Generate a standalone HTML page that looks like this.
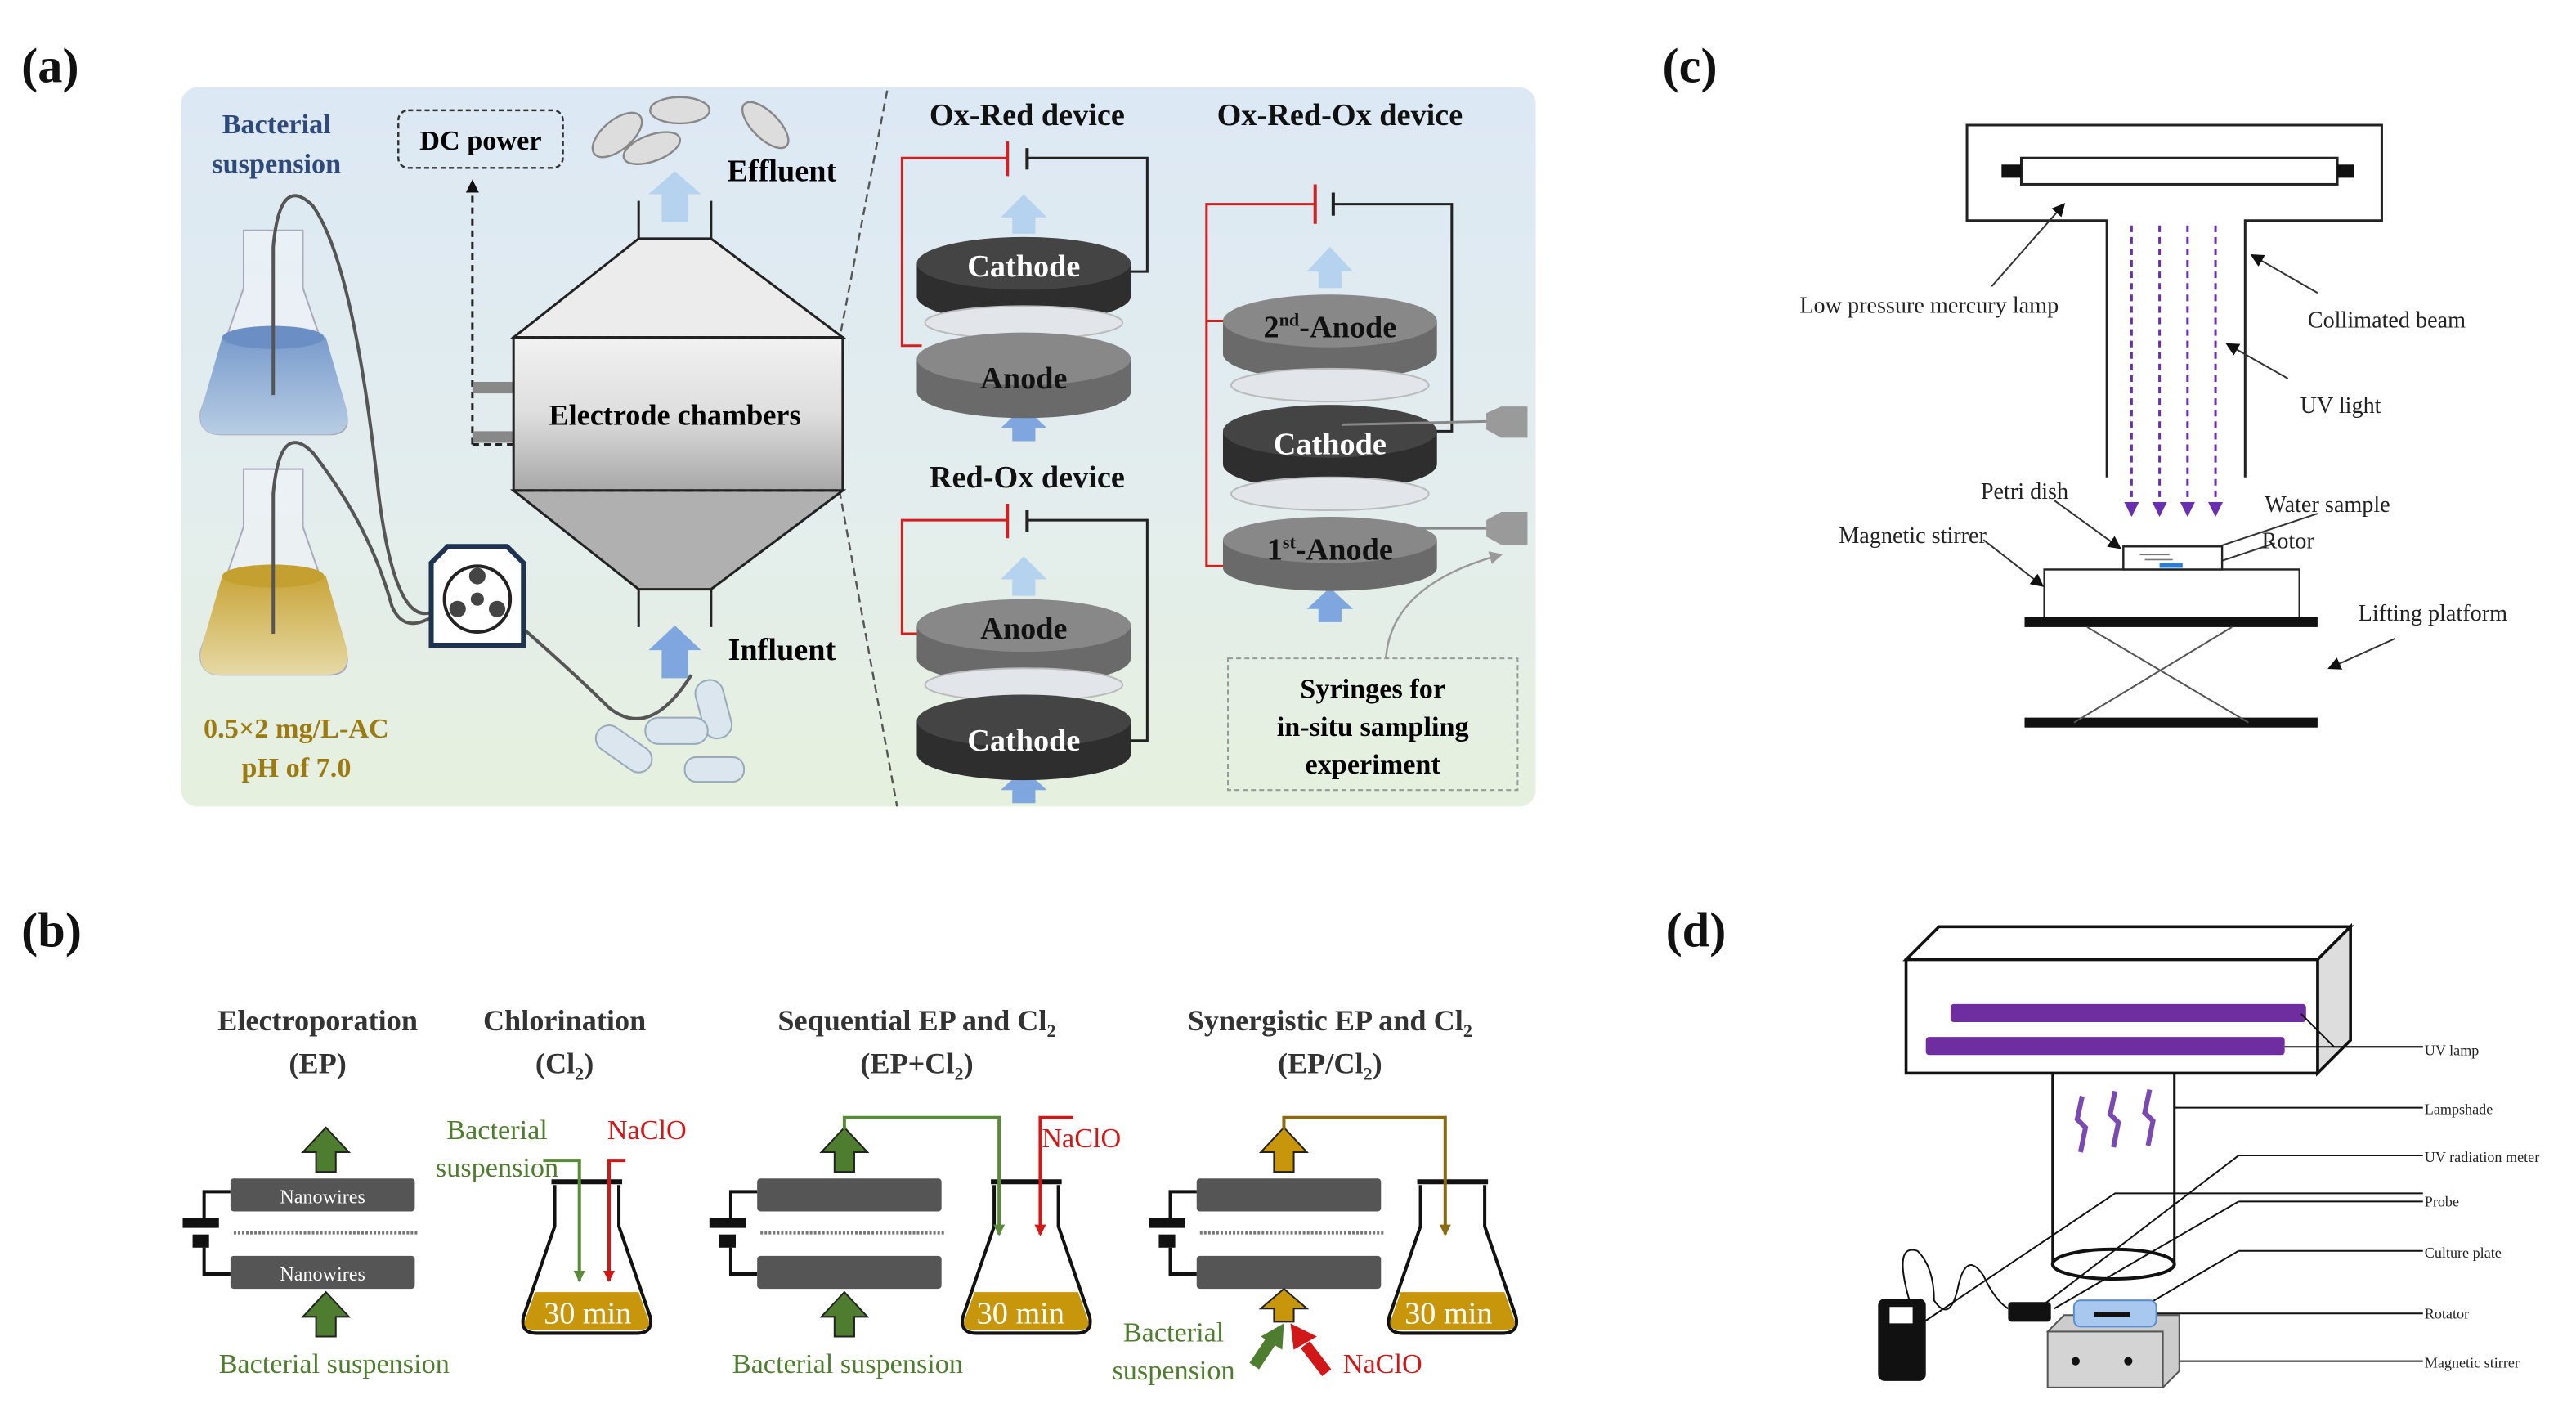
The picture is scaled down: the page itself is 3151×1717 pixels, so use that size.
<!DOCTYPE html>
<html><head><meta charset="utf-8"><style>
html,body{margin:0;padding:0;background:#fff}
svg{display:block}
text{font-family:"Liberation Serif",serif}
</style></head><body>
<svg width="3151" height="1717" viewBox="0 0 1565 853" preserveAspectRatio="none" xmlns="http://www.w3.org/2000/svg">
<defs>
<linearGradient id="bgA" x1="0" y1="0" x2="0" y2="1"><stop offset="0" stop-color="#dce8f4"/><stop offset="0.55" stop-color="#e3edee"/><stop offset="1" stop-color="#e6f0de"/></linearGradient>
<linearGradient id="mid" x1="0" y1="0" x2="0" y2="1"><stop offset="0" stop-color="#f2f2f2"/><stop offset="0.5" stop-color="#dedede"/><stop offset="1" stop-color="#a8a8a8"/></linearGradient>
<linearGradient id="blueL" x1="0" y1="0" x2="0" y2="1"><stop offset="0" stop-color="#7a9ccc"/><stop offset="1" stop-color="#b8cde4"/></linearGradient>
<linearGradient id="goldL" x1="0" y1="0" x2="0" y2="1"><stop offset="0" stop-color="#c9a63a"/><stop offset="1" stop-color="#e6d9a6"/></linearGradient>
<marker id="ah" markerWidth="8" markerHeight="8" refX="7" refY="4" orient="auto" markerUnits="userSpaceOnUse"><path d="M0,0 L8,4 L0,8z" fill="#111"/></marker>
<marker id="ahp" markerWidth="9" markerHeight="9" refX="8" refY="4.5" orient="auto" markerUnits="userSpaceOnUse"><path d="M0,0 L9,4.5 L0,9z" fill="#6a2fb0"/></marker>
<marker id="ahg" markerWidth="7" markerHeight="7" refX="6" refY="3.5" orient="auto" markerUnits="userSpaceOnUse"><path d="M0,0 L7,3.5 L0,7z" fill="#5a8a3a"/></marker>
<marker id="ahr" markerWidth="7" markerHeight="7" refX="6" refY="3.5" orient="auto" markerUnits="userSpaceOnUse"><path d="M0,0 L7,3.5 L0,7z" fill="#d01818"/></marker>
<marker id="ahy" markerWidth="7" markerHeight="7" refX="6" refY="3.5" orient="auto" markerUnits="userSpaceOnUse"><path d="M0,0 L7,3.5 L0,7z" fill="#8a6a10"/></marker>
<marker id="ahgr" markerWidth="8" markerHeight="8" refX="7" refY="4" orient="auto" markerUnits="userSpaceOnUse"><path d="M0,0 L8,4 L0,8z" fill="#999"/></marker>
</defs>

<g font-weight="bold" font-size="30" fill="#111">
<text x="13" y="50">(a)</text>
<text x="13" y="575">(b)</text>
<text x="1010" y="50">(c)</text>
<text x="1012" y="575">(d)</text>
</g>

<!-- ================= (a) ================= -->
<rect x="110" y="53" width="823" height="437" rx="10" fill="url(#bgA)"/>
<path d="M539,55 L510,206" stroke="#555" stroke-width="1.2" stroke-dasharray="5,3" fill="none"/>
<path d="M510,298 L545,490" stroke="#555" stroke-width="1.2" stroke-dasharray="5,3" fill="none"/>

<g font-weight="bold" font-size="17">
<text x="168" y="81" text-anchor="middle" fill="#2e4a7a">Bacterial</text>
<text x="168" y="105" text-anchor="middle" fill="#2e4a7a">suspension</text>
<text x="180" y="448" text-anchor="middle" fill="#9b7a10">0.5×2 mg/L-AC</text>
<text x="180" y="472" text-anchor="middle" fill="#9b7a10">pH of 7.0</text>
</g>
<rect x="242" y="67" width="100" height="35" rx="6" fill="none" stroke="#333" stroke-width="1.2" stroke-dasharray="3,2"/>
<text x="292" y="91" text-anchor="middle" font-weight="bold" font-size="17">DC power</text>
<path d="M287,270 L287,110" stroke="#222" stroke-width="1.5" stroke-dasharray="4,3" fill="none" marker-end="url(#ah)"/>
<path d="M287,270 L312,270" stroke="#222" stroke-width="1.5" stroke-dasharray="4,3"/>
<rect x="287" y="232" width="25" height="7" fill="#888"/>
<rect x="287" y="262" width="25" height="7" fill="#888"/>

<g fill="#ddd" stroke="#888" stroke-width="1.2">
<ellipse cx="375" cy="82" rx="18" ry="9" transform="rotate(-40 375 82)"/>
<ellipse cx="413" cy="67" rx="18" ry="8"/>
<ellipse cx="396" cy="90" rx="18" ry="8" transform="rotate(-20 396 90)"/>
<ellipse cx="465" cy="76" rx="18" ry="8" transform="rotate(45 465 76)"/>
</g>
<text x="475" y="110" text-anchor="middle" font-weight="bold" font-size="19">Effluent</text>
<text x="475" y="401" text-anchor="middle" font-weight="bold" font-size="19">Influent</text>

<path d="M388,145 L432,145 L512,205 L312,205z" fill="#ececec" stroke="#222" stroke-width="1.5"/>
<rect x="312" y="205" width="200" height="93" fill="url(#mid)" stroke="#222" stroke-width="1.5"/>
<path d="M312,298 L512,298 L432,358 L388,358z" fill="#b0b0b0" stroke="#222" stroke-width="1.5"/>
<line x1="312" y1="205" x2="512" y2="205" stroke="#222" stroke-width="1.5" stroke-dasharray="5,3"/>
<line x1="312" y1="298" x2="512" y2="298" stroke="#222" stroke-width="1.5" stroke-dasharray="5,3"/>
<path d="M388,145 L388,122 M432,145 L432,122 M388,358 L388,381 M432,358 L432,381" stroke="#222" stroke-width="1.5"/>
<text x="410" y="258" text-anchor="middle" font-weight="bold" font-size="18">Electrode chambers</text>
<path d="M402,135 L402,118 L394,118 L410,104 L426,118 L418,118 L418,135z" fill="#b5d2ee"/>
<path d="M402,412 L402,395 L394,395 L410,380 L426,395 L418,395 L418,412z" fill="#7fa6de"/>

<g>
<path d="M148,140 L148,175 L122,250 Q120,264 135,264 L200,264 Q214,264 210,250 L184,175 L184,140z" fill="#f0f4f8" fill-opacity="0.6" stroke="#aab" stroke-width="1"/>
<path d="M135,205 L198,205 L211,250 Q213,264 198,264 L134,264 Q120,264 122,250z" fill="url(#blueL)"/>
<ellipse cx="166" cy="205" rx="31" ry="7" fill="#6b8fc4"/>
<path d="M148,285 L148,320 L122,395 Q120,410 135,410 L200,410 Q214,410 210,395 L184,320 L184,285z" fill="#f0f4f8" fill-opacity="0.6" stroke="#aab" stroke-width="1"/>
<path d="M135,350 L198,350 L211,395 Q213,410 198,410 L134,410 Q120,410 122,395z" fill="url(#goldL)"/>
<ellipse cx="166" cy="350" rx="31" ry="7" fill="#c4a030"/>
</g>
<path d="M166,240 L166,150 Q170,105 190,125 Q215,160 230,300 Q240,380 262,372" fill="none" stroke="#555" stroke-width="2"/>
<path d="M166,385 L166,300 Q170,255 190,275 Q225,320 238,368 Q245,385 262,375" fill="none" stroke="#555" stroke-width="2"/>
<path d="M310,375 Q350,410 370,430 Q395,450 420,410" fill="none" stroke="#555" stroke-width="2"/>
<path d="M262,342 L272,332 L308,332 L318,342 L318,392 L262,392z" fill="#fff" stroke="#1f3350" stroke-width="3"/>
<circle cx="290" cy="364" r="20" fill="#fff" stroke="#222" stroke-width="2"/>
<g fill="#444"><circle cx="290" cy="350" r="5"/><circle cx="278" cy="370" r="5"/><circle cx="302" cy="370" r="5"/><circle cx="290" cy="364" r="4"/></g>
<g fill="#dbe6ee" stroke="#9ab" stroke-width="1">
<rect x="425" y="413" width="17" height="36" rx="8" transform="rotate(-15 433 431)"/>
<rect x="392" y="436" width="38" height="16" rx="8"/>
<rect x="360" y="447" width="38" height="16" rx="8" transform="rotate(35 379 455)"/>
<rect x="416" y="460" width="36" height="15" rx="7"/>
</g>

<g font-weight="bold" font-size="19" fill="#111">
<text x="624" y="76" text-anchor="middle">Ox-Red device</text>
<text x="814" y="76" text-anchor="middle">Ox-Red-Ox device</text>
<text x="624" y="296" text-anchor="middle">Red-Ox device</text>
</g>
<path d="M612,96 L548,96 L548,210 L560,210" fill="none" stroke="#d02020" stroke-width="1.5"/>
<path d="M612,86 L612,107" stroke="#d02020" stroke-width="2"/>
<path d="M624,90 L624,103" stroke="#222" stroke-width="2"/>
<path d="M624,96 L697,96 L697,165 L687,165" fill="none" stroke="#222" stroke-width="1.5"/>
<path d="M612,316 L548,316 L548,385 L560,385" fill="none" stroke="#d02020" stroke-width="1.5"/>
<path d="M612,306 L612,327" stroke="#d02020" stroke-width="2"/>
<path d="M624,310 L624,323" stroke="#222" stroke-width="2"/>
<path d="M624,316 L697,316 L697,450 L687,450" fill="none" stroke="#222" stroke-width="1.5"/>
<path d="M799,124 L733,124 L733,195 L745,195 M733,195 L733,344 L745,344" fill="none" stroke="#d02020" stroke-width="1.5"/>
<path d="M799,112 L799,136" stroke="#d02020" stroke-width="2"/>
<path d="M810,117 L810,131" stroke="#222" stroke-width="2"/>
<path d="M810,124 L882,124 L882,262 L872,262" fill="none" stroke="#222" stroke-width="1.5"/>

<g fill="#b5d2ee">
<path d="M615,142 L615,132 L608,132 L622,118 L636,132 L629,132 L629,142z"/>
<path d="M615,362 L615,352 L608,352 L622,338 L636,352 L629,352 L629,362z"/>
<path d="M801,175 L801,165 L794,165 L808,150 L822,165 L815,165 L815,175z"/>
</g>
<g fill="#7fa6de">
<path d="M615,268 L615,260 L608,260 L622,247 L636,260 L629,260 L629,268z"/>
<path d="M615,488 L615,480 L608,480 L622,467 L636,480 L629,480 L629,488z"/>
<path d="M801,378 L801,370 L794,370 L808,357 L822,370 L815,370 L815,378z"/>
</g>

<g>
<path d="M557,160 L557,180 A65,16 0 0 0 687,180 L687,160z" fill="#2e2e2e"/>
<ellipse cx="622" cy="160" rx="65" ry="16" fill="#444"/>
<ellipse cx="622" cy="196" rx="60" ry="10" fill="#e2e6ea" stroke="#bbb"/>
<path d="M557,218 L557,238 A65,16 0 0 0 687,238 L687,218z" fill="#6a6a6a"/>
<ellipse cx="622" cy="218" rx="65" ry="16" fill="#888"/>
<path d="M557,380 L557,400 A65,16 0 0 0 687,400 L687,380z" fill="#6a6a6a"/>
<ellipse cx="622" cy="380" rx="65" ry="16" fill="#888"/>
<ellipse cx="622" cy="416" rx="60" ry="10" fill="#e2e6ea" stroke="#bbb"/>
<path d="M557,438 L557,458 A65,16 0 0 0 687,458 L687,438z" fill="#2e2e2e"/>
<ellipse cx="622" cy="438" rx="65" ry="16" fill="#444"/>
<path d="M743,195 L743,215 A65,16 0 0 0 873,215 L873,195z" fill="#6a6a6a"/>
<ellipse cx="808" cy="195" rx="65" ry="16" fill="#888"/>
<ellipse cx="808" cy="234" rx="60" ry="10" fill="#e2e6ea" stroke="#bbb"/>
<path d="M743,262 L743,282 A65,16 0 0 0 873,282 L873,262z" fill="#2e2e2e"/>
<ellipse cx="808" cy="262" rx="65" ry="16" fill="#444"/>
<ellipse cx="808" cy="300" rx="60" ry="10" fill="#e2e6ea" stroke="#bbb"/>
<path d="M743,328 L743,345 A65,14 0 0 0 873,345 L873,328z" fill="#6a6a6a"/>
<ellipse cx="808" cy="328" rx="65" ry="14" fill="#888"/>
</g>
<g font-weight="bold" font-size="19">
<text x="622" y="168" text-anchor="middle" fill="#fff">Cathode</text>
<text x="622" y="236" text-anchor="middle" fill="#111">Anode</text>
<text x="622" y="388" text-anchor="middle" fill="#111">Anode</text>
<text x="622" y="456" text-anchor="middle" fill="#fff">Cathode</text>
<text x="808" y="205" text-anchor="middle" fill="#111">2<tspan font-size="11" dy="-7">nd</tspan><tspan dy="7">-Anode</tspan></text>
<text x="808" y="276" text-anchor="middle" fill="#fff">Cathode</text>
<text x="808" y="340" text-anchor="middle" fill="#111">1<tspan font-size="11" dy="-7">st</tspan><tspan dy="7">-Anode</tspan></text>
</g>
<g>
<line x1="815" y1="258" x2="905" y2="256" stroke="#888" stroke-width="1.5"/>
<path d="M903,251 L912,247 L928,247 L928,266 L912,266 L903,261z" fill="#9a9a9a"/>
<line x1="815" y1="321" x2="905" y2="321" stroke="#888" stroke-width="1.5"/>
<path d="M903,316 L912,311 L928,311 L928,331 L912,331 L903,326z" fill="#9a9a9a"/>
</g>
<path d="M842,400 Q845,355 912,337" fill="none" stroke="#999" stroke-width="1.2" marker-end="url(#ahgr)"/>
<rect x="746" y="400" width="176" height="80" fill="none" stroke="#999" stroke-width="1" stroke-dasharray="3,2"/>
<g font-weight="bold" font-size="17" text-anchor="middle">
<text x="834" y="424">Syringes for</text>
<text x="834" y="447">in-situ sampling</text>
<text x="834" y="470">experiment</text>
</g>

<!-- ================= (b) ================= -->
<g font-weight="bold" font-size="18" fill="#333" text-anchor="middle">
<text x="193" y="626">Electroporation</text>
<text x="193" y="652">(EP)</text>
<text x="343" y="626">Chlorination</text>
<text x="343" y="652">(Cl<tspan font-size="11" dy="4">2</tspan><tspan dy="-4">)</tspan></text>
<text x="557" y="626">Sequential EP and Cl<tspan font-size="11" dy="4">2</tspan></text>
<text x="557" y="652">(EP+Cl<tspan font-size="11" dy="4">2</tspan><tspan dy="-4">)</tspan></text>
<text x="808" y="626">Synergistic EP and Cl<tspan font-size="11" dy="4">2</tspan></text>
<text x="808" y="652">(EP/Cl<tspan font-size="11" dy="4">2</tspan><tspan dy="-4">)</tspan></text>
</g>
<g id="ep">
<rect x="140" y="716" width="112" height="20" rx="2" fill="#555"/>
<rect x="140" y="763" width="112" height="20" rx="2" fill="#555"/>
<path d="M140,724 L124,724 L124,740 M124,758 L124,774 L140,774" fill="none" stroke="#111" stroke-width="2"/>
<rect x="111" y="740" width="22" height="6" fill="#111"/>
<rect x="117" y="750" width="10" height="8" fill="#111"/>
<line x1="142" y1="749" x2="254" y2="749" stroke="#777" stroke-width="2" stroke-dasharray="1.5,1"/>
</g>
<use href="#ep" x="320"/>
<use href="#ep" x="587"/>
<g font-size="12" fill="#fff" text-anchor="middle"><text x="196" y="731">Nanowires</text><text x="196" y="778">Nanowires</text></g>
<g fill="#4f7d2f" stroke="#222" stroke-width="1">
<path d="M192,712 L192,700 L184,700 L198,685 L212,700 L204,700 L204,712z"/>
<path d="M192,812 L192,800 L184,800 L198,785 L212,800 L204,800 L204,812z"/>
<path d="M507,712 L507,700 L499,700 L513,685 L527,700 L519,700 L519,712z"/>
<path d="M507,812 L507,800 L499,800 L513,785 L527,800 L519,800 L519,812z"/>
</g>
<g fill="#c8960a" stroke="#222" stroke-width="1">
<path d="M774,712 L774,700 L766,700 L780,685 L794,700 L786,700 L786,712z"/>
<path d="M774,803 L774,795 L766,795 L780,783 L794,795 L786,795 L786,803z"/>
</g>
<path d="M762,830 L772,815" stroke="#4f7d2f" stroke-width="7"/>
<path d="M766,812 L780,804 L779,820z" fill="#4f7d2f"/>
<path d="M806,834 L793,817" stroke="#d01818" stroke-width="7"/>
<path d="M784,804 L800,812 L786,820z" fill="#d01818"/>
<g id="fl">
<path d="M337,720 L337,745 L318,800 Q316,810 326,810 L387,810 Q397,810 395,800 L376,745 L376,720" fill="none" stroke="#111" stroke-width="2"/>
<path d="M325,785 L388,785 L394,802 Q396,808 388,808 L325,808 Q317,808 319,802z" fill="#c8960a"/>
<path d="M335,718 L378,718" stroke="#111" stroke-width="3"/>
</g>
<use href="#fl" x="267"/>
<use href="#fl" x="526"/>
<g font-size="19" fill="#fff" text-anchor="middle"><text x="357" y="804">30 min</text><text x="620" y="804">30 min</text><text x="880" y="804">30 min</text></g>
<path d="M330,705 L352,705 L352,778" fill="none" stroke="#5a8a3a" stroke-width="2" marker-end="url(#ahg)"/>
<path d="M380,705 L370,705 L370,778" fill="none" stroke="#d01818" stroke-width="2" marker-end="url(#ahr)"/>
<path d="M513,686 L513,679 L607,679 L607,750" fill="none" stroke="#5a8a3a" stroke-width="2" marker-end="url(#ahg)"/>
<path d="M652,679 L632,679 L632,750" fill="none" stroke="#d01818" stroke-width="2" marker-end="url(#ahr)"/>
<path d="M780,686 L780,679 L878,679 L878,750" fill="none" stroke="#8a6a10" stroke-width="2" marker-end="url(#ahy)"/>
<g font-size="17">
<text x="302" y="692" text-anchor="middle" fill="#4f7d2f">Bacterial</text>
<text x="302" y="715" text-anchor="middle" fill="#4f7d2f">suspension</text>
<text x="393" y="692" text-anchor="middle" fill="#d01818">NaClO</text>
<text x="657" y="697" text-anchor="middle" fill="#d01818">NaClO</text>
<text x="203" y="834" text-anchor="middle" fill="#4f7d2f">Bacterial suspension</text>
<text x="515" y="834" text-anchor="middle" fill="#4f7d2f">Bacterial suspension</text>
<text x="713" y="815" text-anchor="middle" fill="#4f7d2f">Bacterial</text>
<text x="713" y="838" text-anchor="middle" fill="#4f7d2f">suspension</text>
<text x="840" y="834" text-anchor="middle" fill="#d01818">NaClO</text>
</g>

<!-- ================= (c) ================= -->
<g stroke="#222" stroke-width="1.5" fill="none">
<path d="M1280,290 L1280,134 L1195,134 L1195,76 L1447,76 L1447,134 L1364,134 L1364,290"/>
<rect x="1228" y="96" width="192" height="16" fill="#fff"/>
</g>
<rect x="1216" y="100" width="12" height="8" fill="#111"/>
<rect x="1420" y="100" width="10" height="8" fill="#111"/>
<g stroke="#6a2fb0" stroke-width="1.5" stroke-dasharray="4,3" marker-end="url(#ahp)">
<line x1="1295" y1="137" x2="1295" y2="313"/>
<line x1="1312" y1="137" x2="1312" y2="313"/>
<line x1="1329" y1="137" x2="1329" y2="313"/>
<line x1="1346" y1="137" x2="1346" y2="313"/>
</g>
<g stroke="#333" stroke-width="1" marker-end="url(#ah)">
<line x1="1210" y1="174" x2="1254" y2="124"/>
<line x1="1408" y1="178" x2="1368" y2="155"/>
<line x1="1390" y1="230" x2="1353" y2="209"/>
<line x1="1248" y1="304" x2="1288" y2="333"/>
<line x1="1408" y1="312" x2="1324" y2="340"/>
<line x1="1382" y1="330" x2="1340" y2="344"/>
<line x1="1205" y1="328" x2="1241" y2="356"/>
<line x1="1455" y1="388" x2="1415" y2="406"/>
</g>
<rect x="1242" y="346" width="155" height="30" fill="#fff" stroke="#222" stroke-width="1.2"/>
<rect x="1290" y="332" width="60" height="14" fill="#fff" stroke="#222" stroke-width="1.2"/>
<path d="M1300,337 L1318,337 M1303,340 L1320,340" stroke="#777" stroke-width="0.8"/>
<rect x="1312" y="342" width="14" height="3" fill="#2a7fd4"/>
<rect x="1230" y="375" width="178" height="6" fill="#111"/>
<rect x="1230" y="436" width="178" height="6" fill="#111"/>
<path d="M1268,381 L1366,439 M1356,381 L1260,439" stroke="#555" stroke-width="1"/>
<g font-size="14" fill="#222">
<text x="1172" y="190" text-anchor="middle">Low pressure mercury lamp</text>
<text x="1450" y="199" text-anchor="middle">Collimated beam</text>
<text x="1422" y="251" text-anchor="middle">UV light</text>
<text x="1230" y="303" text-anchor="middle">Petri dish</text>
<text x="1414" y="311" text-anchor="middle">Water sample</text>
<text x="1390" y="333" text-anchor="middle">Rotor</text>
<text x="1162" y="330" text-anchor="middle">Magnetic stirrer</text>
<text x="1478" y="377" text-anchor="middle">Lifting platform</text>
</g>

<!-- ================= (d) ================= -->
<g stroke="#111" stroke-width="1.8">
<path d="M1158,583 L1178,563 L1428,563 L1408,583z" fill="#fff"/>
<path d="M1408,583 L1428,563 L1428,632 L1408,652z" fill="#ddd"/>
<rect x="1158" y="583" width="250" height="69" fill="#fff"/>
</g>
<rect x="1185" y="610" width="216" height="11" rx="2" fill="#6f2ea0"/>
<rect x="1170" y="630" width="218" height="11" rx="2" fill="#6f2ea0"/>
<path d="M1247,652 L1247,768 M1321,652 L1321,768" stroke="#111" stroke-width="1.5"/>
<ellipse cx="1284" cy="768" rx="37" ry="9" fill="none" stroke="#111" stroke-width="2"/>
<g stroke="#7a4ab0" stroke-width="3" fill="none">
<path d="M1265,666 L1262,680 L1267,685 L1264,700"/>
<path d="M1285,663 L1282,677 L1287,682 L1284,697"/>
<path d="M1306,662 L1303,676 L1308,681 L1305,696"/>
</g>
<g stroke="#111" stroke-width="1" fill="none">
<path d="M1398,616 L1418,636 L1472,636"/>
<path d="M1388,636 L1472,636"/>
<path d="M1321,673 L1472,673"/>
<path d="M1166,805 L1285,725 L1472,725"/>
<path d="M1360,702 L1472,702 M1360,702 L1241,793"/>
<path d="M1360,730 L1472,730 M1360,730 L1248,795"/>
<path d="M1360,760 L1472,760 M1360,760 L1307,791"/>
<path d="M1290,798 L1472,798"/>
<path d="M1300,827 L1472,827"/>
<path d="M1160,790 Q1150,755 1165,760 Q1175,770 1175,790 Q1185,805 1190,780 Q1195,760 1205,775 Q1212,790 1220,795"/>
</g>
<rect x="1141" y="789" width="29" height="50" rx="4" fill="#111"/>
<rect x="1148" y="794" width="14" height="10" fill="#fff"/>
<rect x="1220" y="791" width="26" height="12" rx="2" fill="#111"/>
<g stroke="#555" stroke-width="1">
<path d="M1244,809 L1254,799 L1324,799 L1324,833 L1314,843z" fill="#ccc"/>
<rect x="1244" y="809" width="70" height="34" fill="#d4d4d4"/>
</g>
<circle cx="1261" cy="827" r="2.5" fill="#111"/><circle cx="1293" cy="827" r="2.5" fill="#111"/>
<rect x="1260" y="790" width="50" height="16" rx="4" fill="#a9c8f0" stroke="#5b8fd0"/>
<rect x="1272" y="797" width="22" height="3" fill="#111"/>
<g font-size="9" fill="#222">
<text x="1473" y="641">UV lamp</text>
<text x="1473" y="677">Lampshade</text>
<text x="1473" y="706">UV radiation meter</text>
<text x="1473" y="733">Probe</text>
<text x="1473" y="764">Culture plate</text>
<text x="1473" y="801">Rotator</text>
<text x="1473" y="831">Magnetic stirrer</text>
</g>
</svg>
</body></html>
